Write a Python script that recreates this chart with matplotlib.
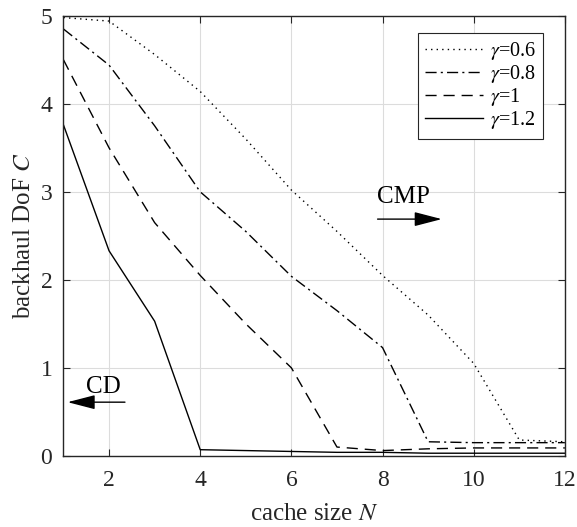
import matplotlib
matplotlib.use("Agg")
import matplotlib.pyplot as plt

plt.rcParams['font.family'] = ['Liberation Serif', 'DejaVu Serif']
plt.rcParams['mathtext.fontset'] = 'stix'

# cache size N
N = [1, 2, 3, 4, 5, 6, 7, 8, 9, 10, 11, 12]

# backhaul DoF for each gamma
c_06 = [4.98, 4.94, 4.56, 4.14, 3.60, 3.02, 2.55, 2.05, 1.60, 1.05, 0.18, 0.16]
c_08 = [4.85, 4.44, 3.75, 3.00, 2.55, 2.04, 1.65, 1.23, 0.16, 0.15, 0.15, 0.15]
c_10 = [4.50, 3.50, 2.65, 2.05, 1.50, 1.00, 0.10, 0.06, 0.08, 0.09, 0.09, 0.09]
c_12 = [3.76, 2.33, 1.53, 0.07, 0.06, 0.05, 0.04, 0.04, 0.03, 0.03, 0.03, 0.03]

fig = plt.figure(figsize=(5.77, 5.27), dpi=100)
ax = fig.add_axes([0.110, 0.135, 0.869, 0.835])

ax.plot(N, c_06, color='black', linestyle=(0, (1, 3)), linewidth=1.0, label=r'$\gamma$=0.6')
ax.plot(N, c_08, color='black', linestyle=(0, (8, 3, 1.5, 3)), linewidth=1.0, label=r'$\gamma$=0.8')
ax.plot(N, c_10, color='black', linestyle=(0, (8, 5)), linewidth=1.0, label=r'$\gamma$=1')
ax.plot(N, c_12, color='black', linestyle='-', linewidth=1.0, label=r'$\gamma$=1.2')

ax.set_xlim(1, 12)
ax.set_ylim(0, 5)
ax.set_xticks([2, 4, 6, 8, 10, 12])
ax.set_yticks([0, 1, 2, 3, 4, 5])
ax.grid(True, color='#dcdcdc', linewidth=0.8)
ax.set_axisbelow(True)
ax.tick_params(direction='in', top=True, right=True, labelsize=17, colors='#262626', length=5)
ax.tick_params(axis='x', pad=10)
ax.tick_params(axis='y', pad=8)
for s in ax.spines.values():
    s.set_color('#262626')
    s.set_linewidth(1.0)

ax.set_xlabel(r'cache size $N$', fontsize=18, color='#262626', labelpad=9)
ax.set_ylabel(r'backhaul DoF $C$', fontsize=18, color='#262626', labelpad=4)

leg = ax.legend(loc='upper right', bbox_to_anchor=(0.957, 0.96), fontsize=14.5,
                handlelength=2.9, handletextpad=0.35, labelspacing=0.05,
                fancybox=False, framealpha=1, borderpad=0.35, borderaxespad=0)
leg.get_frame().set_edgecolor('#262626')
leg.get_frame().set_linewidth(0.8)

arrow_props = dict(arrowstyle='-|>,head_length=0.85,head_width=0.22', color='black', lw=1.0, mutation_scale=20)
ax.annotate('', xy=(9.36, 2.69), xytext=(7.83, 2.69), arrowprops=arrow_props)
ax.text(8.45, 2.875, 'CMP', fontsize=18, ha='center', va='baseline')
ax.annotate('', xy=(1.03, 0.61), xytext=(2.41, 0.61), arrowprops=arrow_props)
ax.text(1.87, 0.716, 'CD', fontsize=18, ha='center', va='baseline')

fig.savefig('out.png', dpi=100)
